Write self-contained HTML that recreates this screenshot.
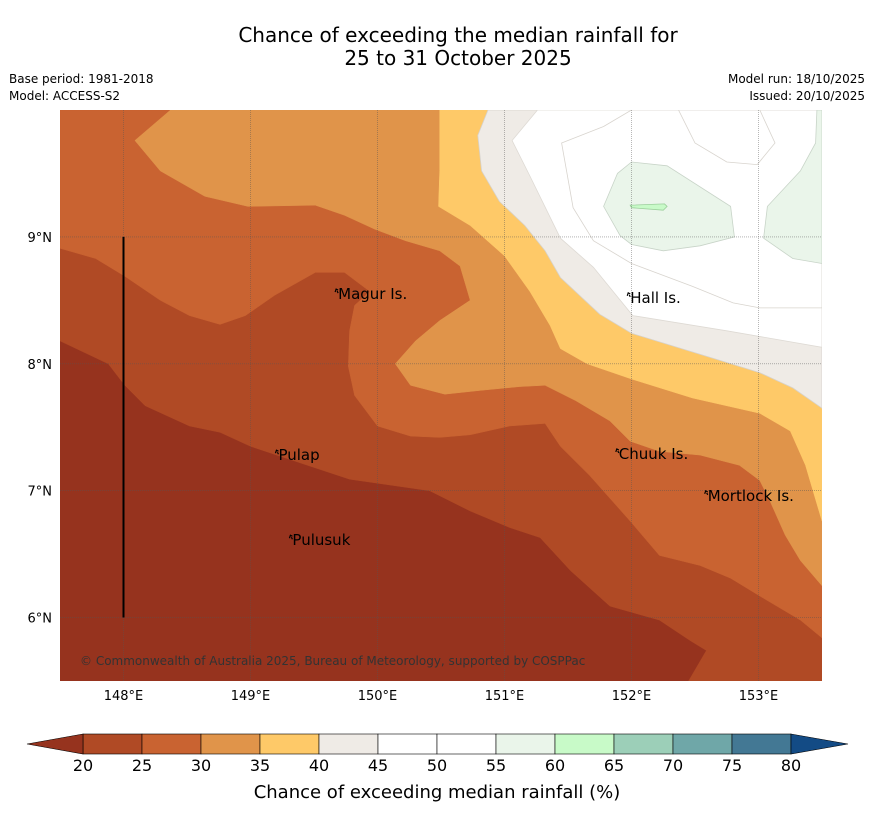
<!DOCTYPE html>
<html><head><meta charset="utf-8">
<style>
html,body{margin:0;padding:0;background:#fff;}
body{width:873px;height:816px;overflow:hidden;font-family:"Liberation Sans","DejaVu Sans",sans-serif;}
svg text{font-family:"DejaVu Sans","Liberation Sans",sans-serif;}
</style></head>
<body>
<svg id="chart" width="873" height="816" xmlns="http://www.w3.org/2000/svg">
<text x="458" y="42" font-size="20" text-anchor="middle">Chance of exceeding the median rainfall for</text>
<text x="458" y="65" font-size="20" text-anchor="middle">25 to 31 October 2025</text>
<text x="9" y="83" font-size="12">Base period: 1981-2018</text>
<text x="9" y="100" font-size="12">Model: ACCESS-S2</text>
<text x="865" y="83" font-size="12" text-anchor="end">Model run: 18/10/2025</text>
<text x="865" y="100" font-size="12" text-anchor="end">Issued: 20/10/2025</text>
<defs><clipPath id="mapclip"><rect x="60" y="110" width="762" height="571"/></clipPath></defs>
<g id="map" clip-path="url(#mapclip)"></g>
<g id="axes"></g>
<g id="cbar"></g>
<text x="437" y="798" font-size="18" text-anchor="middle">Chance of exceeding median rainfall (%)</text>
</svg>
<script>
// ---- data ----
const lonTicks=[148,149,150,151,152,153];
const latTicks=[9,8,7,6];
const levelBounds=[20,25,30,35,40,45,50,55,60,65,70,75,80];
const levelColors=['#b04a25','#c96331','#e0944a','#fec968','#efebe6','#ffffff','#ffffff','#eaf5ea','#c8fac8','#9ccfb8','#6fa7a8','#437894'];
const underColor='#96331e', overColor='#134b85';
const cont20=[[147.5,8.18],[147.88,8.0],[148.01,7.83],[148.17,7.67],[148.52,7.51],[148.76,7.46],[149.0,7.35],[149.39,7.22],[149.78,7.09],[150.41,7.0],[150.73,6.84],[151.04,6.71],[151.28,6.63],[151.52,6.37],[151.83,6.09],[152.22,5.98],[152.46,5.82],[152.59,5.74],[152.45,5.5],[153.5,5.5],[153.5,10],[147.5,10]];
const cont25=[[147.5,8.91],[147.78,8.83],[148.01,8.69],[148.29,8.5],[148.52,8.38],[148.76,8.31],[148.96,8.38],[149.19,8.54],[149.51,8.72],[149.74,8.72],[149.94,8.57],[149.82,8.46],[149.78,8.26],[149.77,7.98],[149.82,7.75],[150.0,7.51],[150.26,7.43],[150.49,7.42],[150.73,7.44],[151.04,7.51],[151.32,7.53],[151.44,7.35],[151.67,7.12],[151.99,6.76],[152.22,6.49],[152.54,6.41],[152.78,6.31],[153.01,6.17],[153.33,5.98],[153.5,5.84],[153.5,10],[147.5,10]];
const cont30=[[148.37,10],[148.09,9.76],[148.29,9.52],[148.64,9.32],[148.98,9.24],[149.51,9.25],[149.74,9.17],[149.98,9.06],[150.22,8.97],[150.49,8.89],[150.65,8.77],[150.73,8.5],[150.49,8.34],[150.3,8.18],[150.14,8.0],[150.26,7.83],[150.53,7.76],[150.81,7.79],[151.12,7.82],[151.32,7.83],[151.56,7.71],[151.83,7.55],[151.99,7.39],[152.22,7.31],[152.54,7.28],[152.85,7.2],[153.01,7.08],[153.09,6.92],[153.21,6.65],[153.33,6.45],[153.5,6.25],[153.5,10]];
const cont35=[[150.49,10],[150.49,9.52],[150.48,9.24],[150.73,9.09],[151.0,8.85],[151.2,8.57],[151.36,8.3],[151.44,8.12],[151.65,8.0],[152.0,7.88],[152.48,7.73],[153.01,7.61],[153.25,7.47],[153.37,7.2],[153.5,6.76],[153.5,10]];
const cont40=[[150.87,10],[150.79,9.8],[150.82,9.52],[150.96,9.28],[151.16,9.09],[151.32,8.89],[151.44,8.68],[151.75,8.39],[152.0,8.24],[152.75,8.01],[153.01,7.93],[153.27,7.81],[153.5,7.65],[153.5,10]];
const cont45=[[151.26,10],[151.06,9.76],[151.2,9.48],[151.44,8.99],[151.7,8.76],[152.01,8.38],[152.75,8.26],[153.5,8.13],[153.5,10]];
const cont50a=[[152.0,10],[151.78,9.87],[151.45,9.74],[151.54,9.23],[151.7,8.97],[152.0,8.79],[152.48,8.61],[152.8,8.48],[153.01,8.44],[153.5,8.44],[153.5,10]];
const cont50b=[[152.37,10],[152.5,9.74],[152.75,9.59],[152.99,9.57],[153.13,9.74],[153.01,10]];
const cont55a=[[152.0,9.59],[152.28,9.56],[152.78,9.24],[152.81,9.0],[152.54,8.93],[152.25,8.89],[152.0,8.94],[151.91,9.01],[151.78,9.24],[151.89,9.5]];
const cont55b=[[153.46,10],[153.45,9.74],[153.33,9.52],[153.07,9.24],[153.04,8.99],[153.27,8.83],[153.5,8.79],[153.5,10]];
const cont60=[[151.99,9.25],[152.26,9.26],[152.28,9.24],[152.25,9.21],[152.0,9.23]];
const places=[['Magur Is.',149.69,8.51],['Hall Is.',151.99,8.48],['Pulap',149.22,7.24],['Chuuk Is.',151.9,7.25],['Mortlock Is.',152.6,6.92],['Pulusuk',149.33,6.57]];
const placeNames=['magur-label','hall-label','pulap-label','chuuk-label','mortlock-label','pulusuk-label'];
// ---- axes ----
const X0=60,X1=822,Y0=110,Y1=681,LON0=147.5,LON1=153.5,LAT0=5.5,LAT1=10.0;
const sx=lon=>X0+(lon-LON0)/(LON1-LON0)*(X1-X0);
const sy=lat=>Y1-(lat-LAT0)/(LAT1-LAT0)*(Y1-Y0);
const NS='http://www.w3.org/2000/svg';
function mk(tag,parent){const e=document.createElementNS(NS,tag);parent.appendChild(e);return e;}
const map=document.getElementById('map');
const bg=mk('rect',map);


bg.setAttribute('x',X0);bg.setAttribute('y',Y0);bg.setAttribute('width',X1-X0);bg.setAttribute('height',Y1-Y0);bg.setAttribute('fill',underColor);
function poly(pts,fill,name,stroke){
  const p=mk('polygon',map);
  
  
  p.setAttribute('points',pts.map(q=>sx(q[0]).toFixed(1)+','+sy(q[1]).toFixed(1)).join(' '));
  p.setAttribute('fill',fill);
  p.setAttribute('stroke',stroke||fill);p.setAttribute('stroke-width',stroke?0.8:0.5);
}
poly(cont20,levelColors[0],'contour-20-25');
poly(cont25,levelColors[1],'contour-25-30');
poly(cont30,levelColors[2],'contour-30-35');
poly(cont35,levelColors[3],'contour-35-40');
poly(cont40,levelColors[4],'contour-40-45','#d6d2cc');
poly(cont45,levelColors[5],'contour-45-50','#dedad4');
poly(cont50a,levelColors[6],'contour-50-55-a','#d8d4ce');
poly(cont50b,levelColors[6],'contour-50-55-b','#d8d4ce');
poly(cont55a,levelColors[7],'contour-55-60-a','#c8d4c8');
poly(cont55b,levelColors[7],'contour-55-60-b','#c8d4c8');
poly(cont60,levelColors[8],'contour-60-65','#9ccf9c');
// grid
lonTicks.forEach(l=>{const g=mk('line',map);


g.setAttribute('x1',sx(l));g.setAttribute('x2',sx(l));g.setAttribute('y1',Y0);g.setAttribute('y2',Y1);g.setAttribute('stroke','#555');g.setAttribute('stroke-width','0.6');g.setAttribute('stroke-dasharray','1,1');g.setAttribute('opacity','0.7');});
latTicks.forEach(l=>{const g=mk('line',map);


g.setAttribute('y1',sy(l));g.setAttribute('y2',sy(l));g.setAttribute('x1',X0);g.setAttribute('x2',X1);g.setAttribute('stroke','#555');g.setAttribute('stroke-width','0.6');g.setAttribute('stroke-dasharray','1,1');g.setAttribute('opacity','0.7');});
// boundary line
const bl=mk('line',map);


bl.setAttribute('x1',sx(148));bl.setAttribute('x2',sx(148));bl.setAttribute('y1',sy(9));bl.setAttribute('y2',sy(6));bl.setAttribute('stroke','#000');bl.setAttribute('stroke-width','2');
// places
places.forEach((p,i)=>{
  const m=mk('path',map);
  
  
  const x=sx(p[1]),y=sy(p[2]);
  m.setAttribute('d',`M${x-3},${y-7} l1,-3 l2,1 M${x-1},${y-8} l1,2`);
  m.setAttribute('stroke','#000');m.setAttribute('fill','none');m.setAttribute('stroke-width','1.2');
  const t=mk('text',map);
  
  
  t.setAttribute('x',x);t.setAttribute('y',y);t.setAttribute('font-size','15');t.textContent=p[0];
});
const cr=mk('text',map);


cr.setAttribute('x',80);cr.setAttribute('y',665);cr.setAttribute('font-size','12');cr.setAttribute('fill','#333');
cr.textContent='© Commonwealth of Australia 2025, Bureau of Meteorology, supported by COSPPac';
// axis labels
const axes=document.getElementById('axes');
lonTicks.forEach(l=>{const t=mk('text',axes);


t.setAttribute('x',sx(l));t.setAttribute('y',700);t.setAttribute('font-size','13');t.setAttribute('text-anchor','middle');t.textContent=l+'°E';});
latTicks.forEach(l=>{const t=mk('text',axes);


t.setAttribute('x',52);t.setAttribute('y',sy(l)+5);t.setAttribute('font-size','13');t.setAttribute('text-anchor','end');t.textContent=l+'°N';});
// colorbar
const cb=document.getElementById('cbar');
const CX0=83,CX1=791,CY0=734,CY1=754;
const cw=(CX1-CX0)/levelColors.length;
levelColors.forEach((c,i)=>{const r=mk('rect',cb);


r.setAttribute('x',CX0+i*cw);r.setAttribute('y',CY0);r.setAttribute('width',cw);r.setAttribute('height',CY1-CY0);r.setAttribute('fill',c);r.setAttribute('stroke','#000');r.setAttribute('stroke-width','0.6');});
const lt=mk('polygon',cb);


lt.setAttribute('points',`${CX0},${CY0} 27,${(CY0+CY1)/2} ${CX0},${CY1}`);lt.setAttribute('fill',underColor);lt.setAttribute('stroke','#000');lt.setAttribute('stroke-width','0.6');
const rt=mk('polygon',cb);


rt.setAttribute('points',`${CX1},${CY0} 848,${(CY0+CY1)/2} ${CX1},${CY1}`);rt.setAttribute('fill',overColor);rt.setAttribute('stroke','#000');rt.setAttribute('stroke-width','0.6');
levelBounds.forEach((b,i)=>{const t=mk('text',cb);


t.setAttribute('x',CX0+i*cw);t.setAttribute('y',771);t.setAttribute('font-size','16');t.setAttribute('text-anchor','middle');t.textContent=b;});
</script>
</body></html>
